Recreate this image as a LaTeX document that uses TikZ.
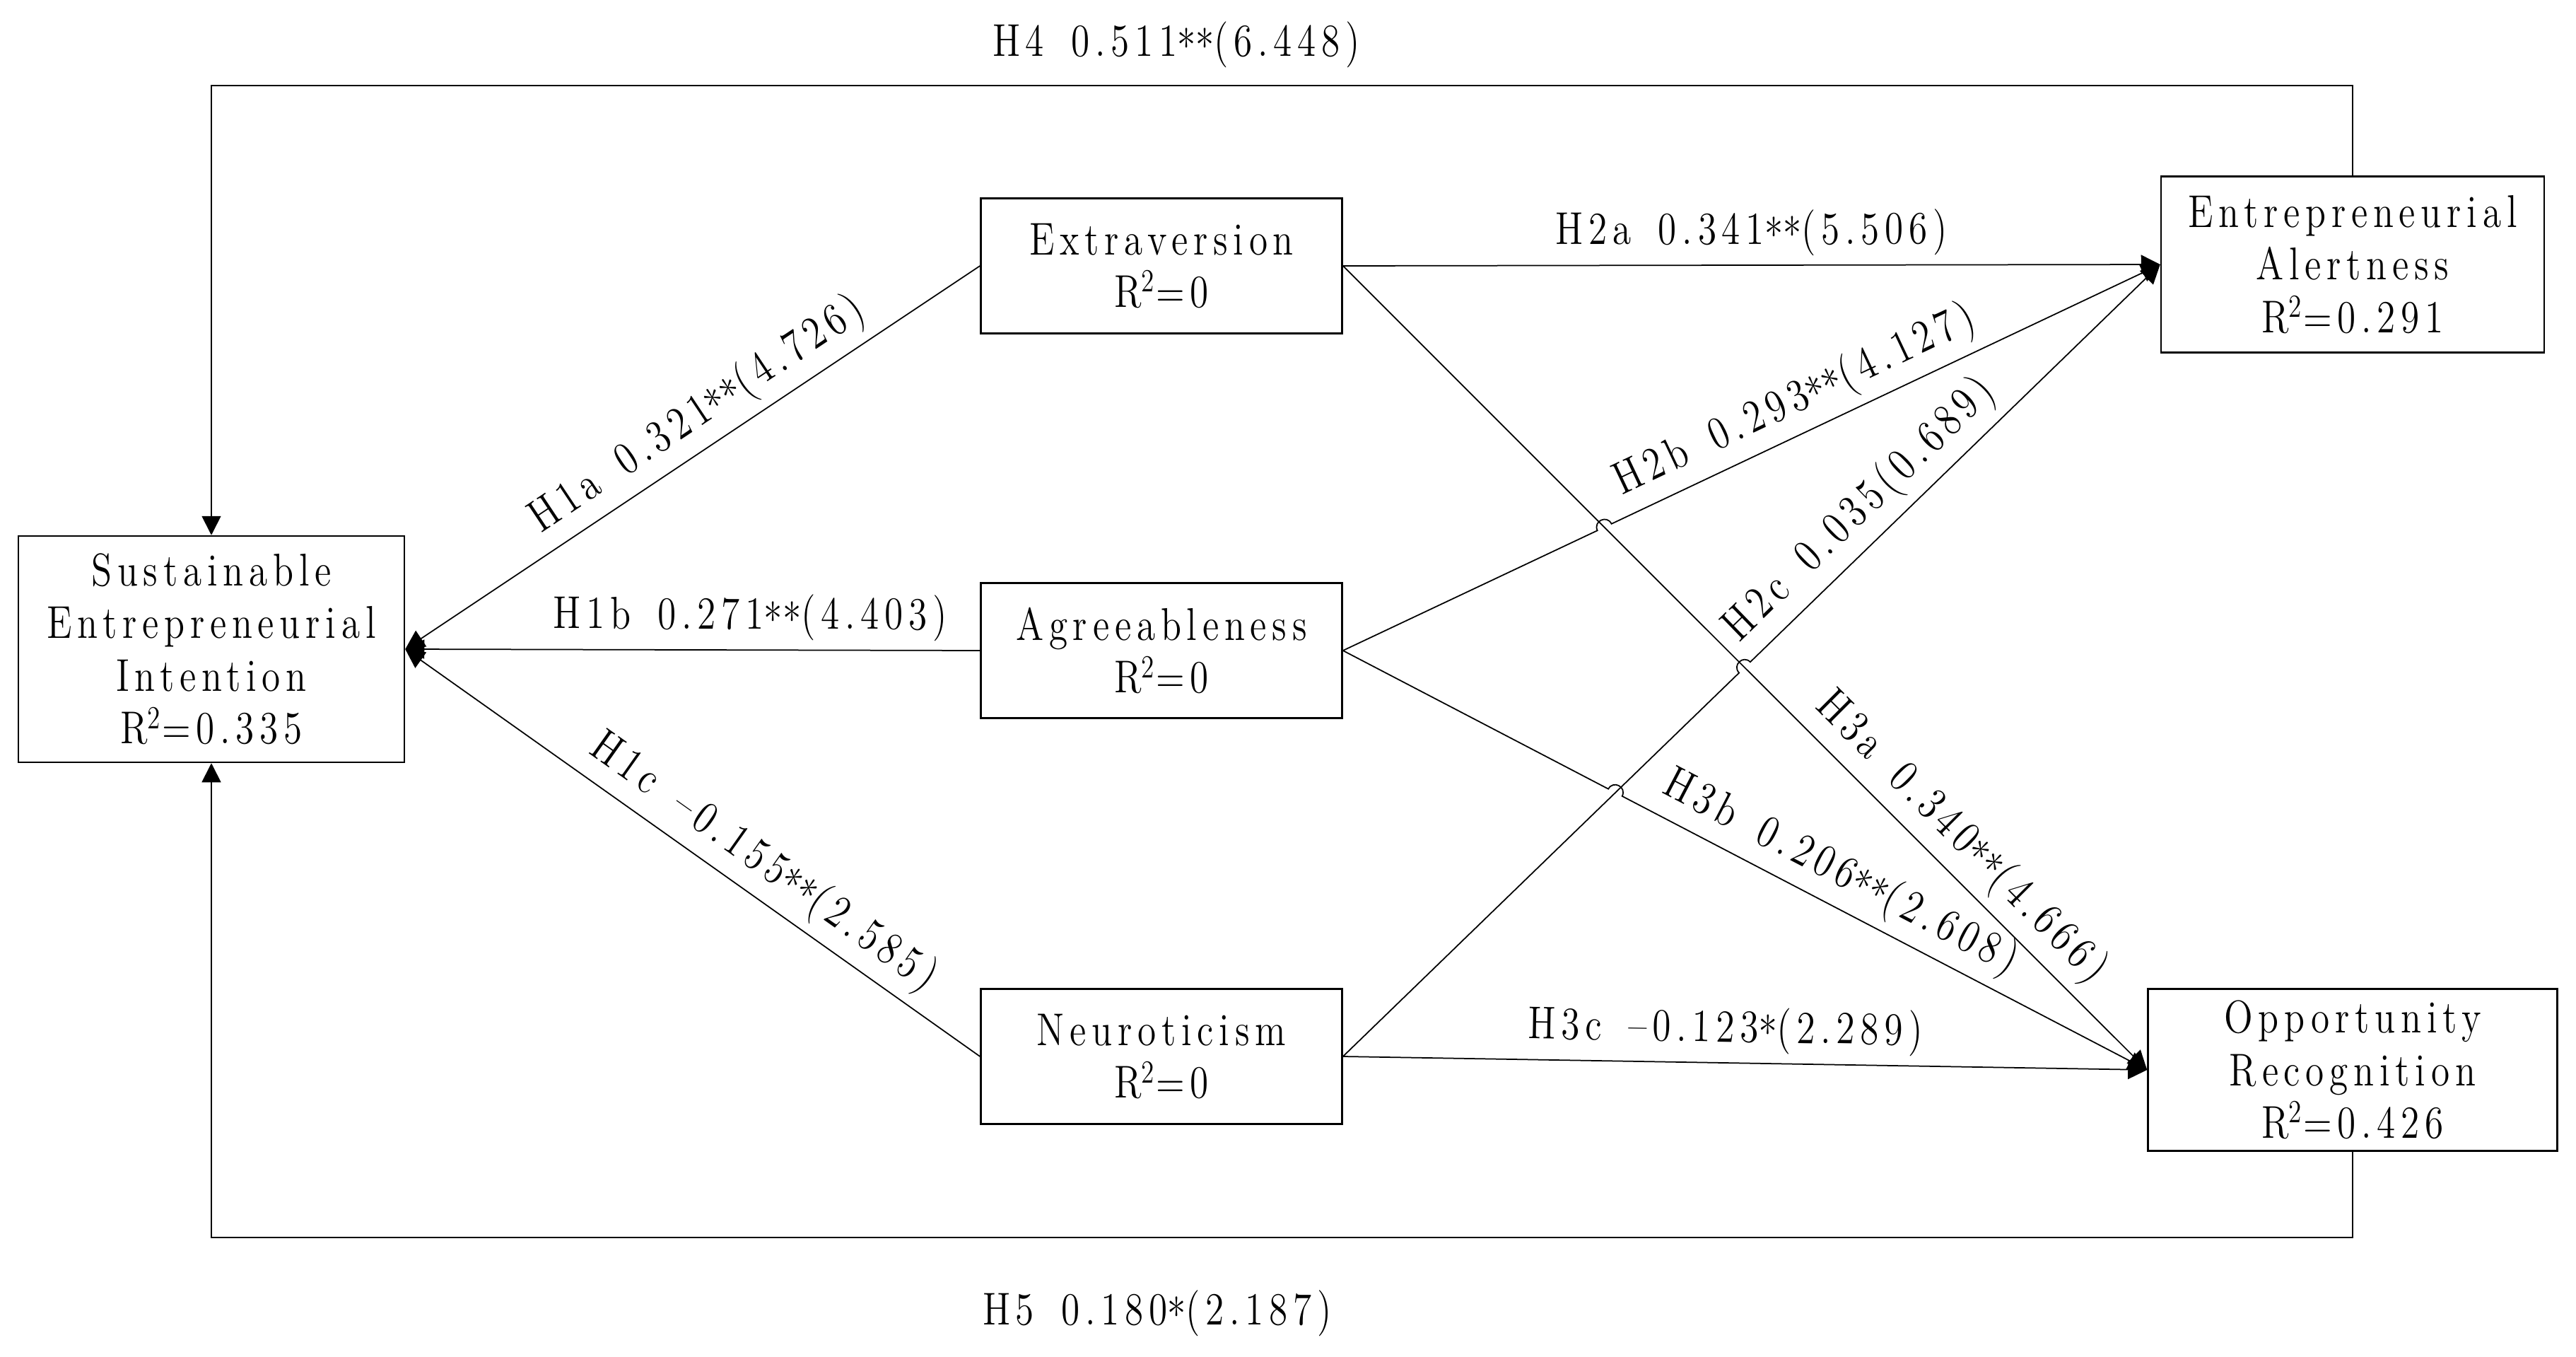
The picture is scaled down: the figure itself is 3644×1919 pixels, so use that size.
\documentclass[tikz,border=0pt]{standalone}
\usepackage{fontspec}
\setmainfont{lmroman12-regular.otf}[FakeStretch=0.82,LetterSpace=12]
\usetikzlibrary{arrows.meta,calc}
\newcommand\stt{\raisebox{-0.15em}{*}}
\newcommand\gap{\hspace{0.2em}}
\begin{document}
\begin{tikzpicture}[x=0.2pt,y=-0.2pt,
  font=\fontsize{13pt}{14.9pt}\selectfont,
  box/.style={draw,line width=0.5pt,inner sep=0pt,align=center},
  conn/.style={line width=0.35pt,-{Triangle[length=5.4pt,width=5.4pt]}},
  lab/.style={sloped,above,inner sep=2.5pt}]
\useasboundingbox (0,0) rectangle (3644,1919);
% nodes
\node[box,minimum width=109.2pt,minimum height=64pt] (SEI) at (299,918)
  {Sustainable\\Entrepreneurial\\Intention\\R\textsuperscript{2}=0.335};
\node[box,minimum width=102.2pt,minimum height=38.2pt] (EXT) at (1643,376)
  {Extraversion\\R\textsuperscript{2}=0};
\node[box,minimum width=102.2pt,minimum height=38.2pt] (AGR) at (1643,920)
  {Agreeableness\\R\textsuperscript{2}=0};
\node[box,minimum width=102.2pt,minimum height=38.2pt] (NEU) at (1643,1494)
  {Neuroticism\\R\textsuperscript{2}=0};
\node[box,minimum width=108.4pt,minimum height=49.8pt] (EA) at (3328,374)
  {Entrepreneurial\\Alertness\\R\textsuperscript{2}=0.291};
\node[box,minimum width=115.8pt,minimum height=45.8pt] (OR) at (3328,1513)
  {Opportunity\\Recognition\\R\textsuperscript{2}=0.426};
% H4 / H5
\coordinate (topy) at (0,121);
\coordinate (boty) at (0,1750);
\draw[conn] (EA.north) -- (EA.north |- topy) -- (SEI.north |- topy) -- (SEI.north);
\draw[conn] (OR.south) -- (OR.south |- boty) -- (SEI.south |- boty) -- (SEI.south);
\node (L4) at (1664,63) {H4 \gap0.511\stt\stt(6.448)};
\node (L5) at (1637,1857) {H5 \gap0.180\stt(2.187)};
% H1
\draw[conn] (EXT.west) -- (SEI.east) node[lab,pos=0.46] {H1a \gap0.321\stt\stt(4.726)};
\draw[conn] (AGR.west) -- (SEI.east) node[lab,pos=0.40] {H1b \gap0.271\stt\stt(4.403)};
\draw[conn] (NEU.west) -- (SEI.east) node[lab,pos=0.41] {H1c \gap\textendash0.155\stt\stt(2.585)};
% H2a, H3a, H3c
\draw[conn] (EXT.east) -- (EA.west) node[lab,pos=0.5] {H2a \gap0.341\stt\stt(5.506)};
\draw[conn] (EXT.east) -- (OR.west) node[lab,pos=0.74] {H3a \gap0.340\stt\stt(4.666)};
\draw[conn] (NEU.east) -- (OR.west) node[lab,pos=0.475] {H3c \gap\textendash0.123\stt(2.289)};
% crossings
\coordinate (X1) at (intersection of AGR.east--EA.west and EXT.east--OR.west);
\coordinate (X2) at (intersection of NEU.east--EA.west and EXT.east--OR.west);
\coordinate (X3) at (intersection of AGR.east--OR.west and NEU.east--EA.west);
\coordinate (X1a) at ($(X1)!2.2pt!(AGR.east)$);
\coordinate (X1b) at ($(X1)!2.2pt!(EA.west)$);
\coordinate (X2a) at ($(X2)!2.2pt!(NEU.east)$);
\coordinate (X2b) at ($(X2)!2.2pt!(EA.west)$);
\coordinate (X3a) at ($(X3)!2.2pt!(AGR.east)$);
\coordinate (X3b) at ($(X3)!2.2pt!(OR.west)$);
% H2b with hop
\draw[conn] (AGR.east) -- (X1a) .. controls ($(X1a)!1.333!90:(X1)$) and ($(X1b)!1.333!-90:(X1)$) .. (X1b) -- (EA.west);
\path (AGR.east) -- (EA.west) node[lab,pos=0.57] {H2b \gap0.293\stt\stt(4.127)};
% H2c with hop
\draw[conn] (NEU.east) -- (X2a) .. controls ($(X2a)!1.333!90:(X2)$) and ($(X2b)!1.333!-90:(X2)$) .. (X2b) -- (EA.west);
\path (NEU.east) -- (EA.west) node[lab,pos=0.66] {H2c \gap0.035(0.689)};
% H3b with hop
\draw[conn] (AGR.east) -- (X3a) .. controls ($(X3a)!1.333!90:(X3)$) and ($(X3b)!1.333!-90:(X3)$) .. (X3b) -- (OR.west);
\path (AGR.east) -- (OR.west) node[lab,pos=0.6] {H3b \gap0.206\stt\stt(2.608)};
\end{tikzpicture}
\end{document}
